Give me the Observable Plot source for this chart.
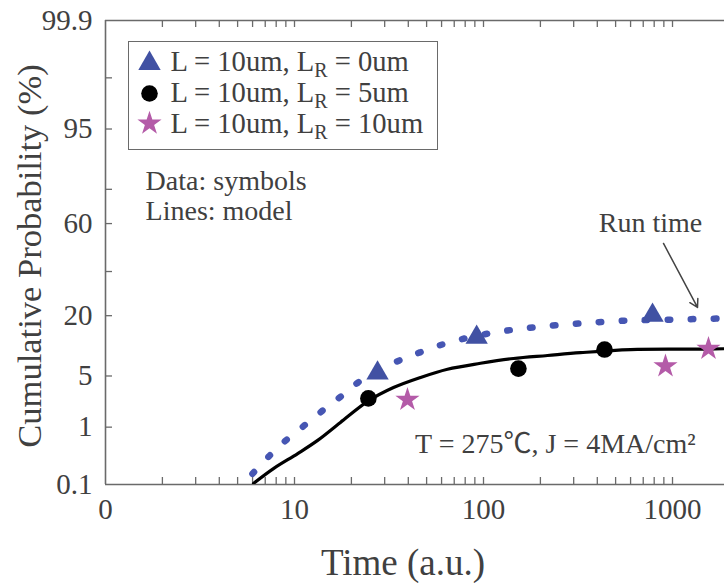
<!DOCTYPE html>
<html><head><meta charset="utf-8">
<script src="https://cdn.jsdelivr.net/npm/d3@7"></script>
<script src="https://cdn.jsdelivr.net/npm/@observablehq/plot@0.6"></script>
<style>
html,body{margin:0;padding:0;background:#fff;}
#wrap{position:relative;width:724px;height:583px;overflow:hidden;}
#legend{position:absolute;left:128px;top:41px;width:310px;height:109px;box-sizing:border-box;border:1.5px solid #6a6a6a;background:#fff;font-family:"Liberation Serif",serif;font-size:28.6px;color:#404040;}
#legend .row{position:absolute;left:41.5px;line-height:31px;white-space:nowrap;}
#legend sub{font-size:20px;line-height:0;vertical-align:-6px;}
#legend svg{position:absolute;left:0;top:0;}
</style></head><body>
<div id="wrap"><div id="chart"></div><div id="legend"></div></div>
<script>
// ---- data (time in a.u., cumulative probability in %) ----
const seriesNames = ["L = 10um, L_R = 0um", "L = 10um, L_R = 5um", "L = 10um, L_R = 10um"];
const triTime = [27.5, 92, 784];
const triProb = [5.4, 12.9, 20.1];
const cirTime = [24.6, 153, 437];
const cirProb = [2.6, 6.1, 9.8];
const starTime = [39.6, 918, 1550];
const starProb = [2.5, 6.5, 10.0];
// model lines
const model0Time = [5.99, 7.38, 8.74, 10.76, 12.9, 15.3, 18.4, 21.8, 34.2, 43.1, 54.4, 68.5, 113, 182, 318, 571, 1037, 1900];
const model0Prob = [0.16, 0.34, 0.57, 0.95, 1.45, 2.1, 3.0, 4.2, 7.2, 8.7, 10.3, 11.8, 14.3, 15.9, 17.2, 18.2, 18.6, 19.0];
const model5Time = [6.07, 7.74, 10.4, 13.2, 17.5, 24.6, 33.4, 46.4, 64.5, 96.4, 144, 218, 326, 600, 1356, 1900];
const model5Prob = [0.105, 0.20, 0.37, 0.61, 1.18, 2.4, 3.6, 4.8, 6.0, 7.0, 7.9, 8.5, 9.1, 9.8, 9.9, 10.0];
// axis ticks
const timeTicks = [1, 10, 100, 1000];
const timeTickLabels = ["0", "10", "100", "1000"];
const timeMinor = [2,3,4,5,6,7,8,9,20,30,40,50,60,70,80,90,200,300,400,500,600,700,800,900];
const probTicks = [0.1, 1, 5, 20, 65, 95, 99.9];
const probTickLabels = ["0.1", "1", "5", "20", "60", "95", "99.9"];
const probMinor = [40, 80, 99];

// inverse normal CDF (probability plot scale)
function probit(p){
  const a=[-3.969683028665376e+01,2.209460984245205e+02,-2.759285104469687e+02,1.383577518672690e+02,-3.066479806614716e+01,2.506628277459239e+00];
  const b=[-5.447609879822406e+01,1.615858368580409e+02,-1.556989798598866e+02,6.680131188771972e+01,-1.328068155288572e+01];
  const c=[-7.784894002430293e-03,-3.223964580411365e-01,-2.400758277161838e+00,-2.549732539343734e+00,4.374664141464968e+00,2.938163982698783e+00];
  const d=[7.784695709041462e-03,3.224671290700398e-01,2.445134137142996e+00,3.754408661907416e+00];
  const pl=0.02425, ph=1-pl; let q,r;
  if(p<pl){q=Math.sqrt(-2*Math.log(p));return (((((c[0]*q+c[1])*q+c[2])*q+c[3])*q+c[4])*q+c[5])/((((d[0]*q+d[1])*q+d[2])*q+d[3])*q+1);}
  if(p>ph){q=Math.sqrt(-2*Math.log(1-p));return -(((((c[0]*q+c[1])*q+c[2])*q+c[3])*q+c[4])*q+c[5])/((((d[0]*q+d[1])*q+d[2])*q+d[3])*q+1);}
  q=p-0.5;r=q*q;return (((((a[0]*r+a[1])*r+a[2])*r+a[3])*r+a[4])*r+a[5])*q/(((((b[0]*r+b[1])*r+b[2])*r+b[3])*r+b[4])*r+1);
}
const py = v => probit(v/100);

const zip = (xs, ys) => xs.map((x,i) => ({t: x, p: ys[i]}));
const tri = zip(triTime, triProb), cir = zip(cirTime, cirProb), star = zip(starTime, starProb);
const m0 = zip(model0Time, model0Prob), m5 = zip(model5Time, model5Prob);

const BLUE = "#4151a3", BLUE_DOT = "#4656b3", MAG = "#b45ba8", AX = "#6a6a6a", TXT = "#404040";
const FONT = '"Liberation Serif", "Times New Roman", serif';
const W = 724, H = 583, ML = 105, MR = 0, MT = 20, MB = 99;
const PW = W-ML-MR, PH = H-MT-MB;
const yDom = [py(0.1), py(99.9)];
const xLab = new Map(timeTicks.map((t,i)=>[t, timeTickLabels[i]]));
const yTickVals = probTicks.map(py);
const yLab = new Map(yTickVals.map((v,i)=>[v, probTickLabels[i]]));
const txt = {fill: TXT, fontFamily: FONT};

const chart = Plot.plot({
  width: W, height: H, marginLeft: ML, marginRight: MR, marginTop: MT, marginBottom: MB,
  x: {type: "log", domain: [1, 1884]},
  y: {type: "linear", domain: yDom},
  style: {fontFamily: FONT, color: TXT, background: "white", overflow: "hidden"},
  marks: [
    // inward ticks
    Plot.tickX(timeTicks.slice(1).concat(timeMinor), {x: d=>d, insetTop: PH-7, stroke: AX, strokeWidth: 1.3}),
    Plot.tickX(timeTicks.slice(1).concat(timeMinor), {x: d=>d, insetBottom: PH-7, stroke: AX, strokeWidth: 1.3}),
    Plot.tickY(probTicks.slice(1,-1).concat(probMinor), {y: d=>py(d), insetRight: PW-7, stroke: AX, strokeWidth: 1.3}),
    // frame lines
    Plot.ruleX([1], {stroke: AX, strokeWidth: 1.6}),
    Plot.ruleY(yDom, {stroke: AX, strokeWidth: 1.6}),
    // axes labels
    Plot.axisX(timeTicks, {tickSize: 0, tickPadding: 14, tickFormat: d => xLab.get(d), fontSize: 29, label: null, ...txt}),
    Plot.axisY(yTickVals, {tickSize: 0, tickPadding: 13, tickFormat: d => yLab.get(d), fontSize: 29, label: null, ...txt}),
    Plot.text(["Time (a.u.)"], {frameAnchor: "bottom", dx: -12, dy: 79, textAnchor: "middle", lineAnchor: "middle", fontSize: 37, ...txt}),
    Plot.text(["Cumulative Probability (%)"], {frameAnchor: "left", dx: -75.5, dy: 3.5, rotate: -90, textAnchor: "middle", lineAnchor: "middle", fontSize: 34.5, ...txt}),
    // model lines
    Plot.line(m0, {x: "t", y: d=>py(d.p), stroke: BLUE_DOT, strokeWidth: 6.5, strokeDasharray: "2.5,20.5", strokeLinecap: "round", curve: "catmull-rom", clip: true}),
    Plot.line(m5, {x: "t", y: d=>py(d.p), stroke: "#000", strokeWidth: 3.2, curve: "catmull-rom", clip: true}),
    // data symbols
    Plot.dot(tri, {x: "t", y: d=>py(d.p), symbol: "triangle", r: 8.3, fill: BLUE}),
    Plot.dot(cir, {x: "t", y: d=>py(d.p), symbol: "circle", r: 8.3, fill: "#000"}),
    Plot.dot(star, {x: "t", y: d=>py(d.p), symbol: "star", r: 7.6, fill: MAG}),
    // annotations
    Plot.text(["Data: symbols"], {x: 1.63, y: py(83.0), textAnchor: "start", lineAnchor: "middle", fontSize: 28, ...txt}),
    Plot.text(["Lines: model"], {x: 1.63, y: py(71.0), textAnchor: "start", lineAnchor: "middle", fontSize: 28, ...txt}),
    Plot.text(["Run time"], {x: 765, y: py(65.5), textAnchor: "middle", lineAnchor: "middle", fontSize: 28, ...txt}),
    Plot.arrow([0], {x1: 896, y1: py(54.8), x2: 1356, y2: py(23.2), stroke: "#444", strokeWidth: 1.5, headLength: 9}),
    Plot.text(["T = 275\u2103, J = 4MA/cm\u00b2"], {x: 240, y: py(0.53), textAnchor: "middle", lineAnchor: "middle", fontSize: 28, fill: TXT, fontFamily: '"Liberation Serif", "Noto Sans CJK JP", serif'})
  ]
});
document.getElementById("chart").appendChild(chart);

// legend
const leg = d3.select("#legend");
const lsvg = leg.append("svg").attr("width", 307).attr("height", 106);
const legSyms = [
  {type: d3.symbolTriangle, r: 8.3, fill: BLUE, cy: 21.5},
  {type: d3.symbolCircle, r: 8.3, fill: "#000", cy: 51.5},
  {type: d3.symbolStar, r: 7.6, fill: MAG, cy: 81.5}
];
legSyms.forEach(s => {
  lsvg.append("path").attr("d", d3.symbol().type(s.type).size(Math.PI*s.r*s.r)())
    .attr("transform", `translate(20.5,${s.cy})`).attr("fill", s.fill);
});
const rowTops = [3.5, 34.5, 65.5];
seriesNames.forEach((name, i) => {
  const [a, b] = name.split("L_R");
  const row = leg.append("div").attr("class", "row").style("top", rowTops[i] + "px");
  row.append("span").text(a + "L");
  row.append("sub").text("R");
  row.append("span").text(b);
});
</script></body></html>
